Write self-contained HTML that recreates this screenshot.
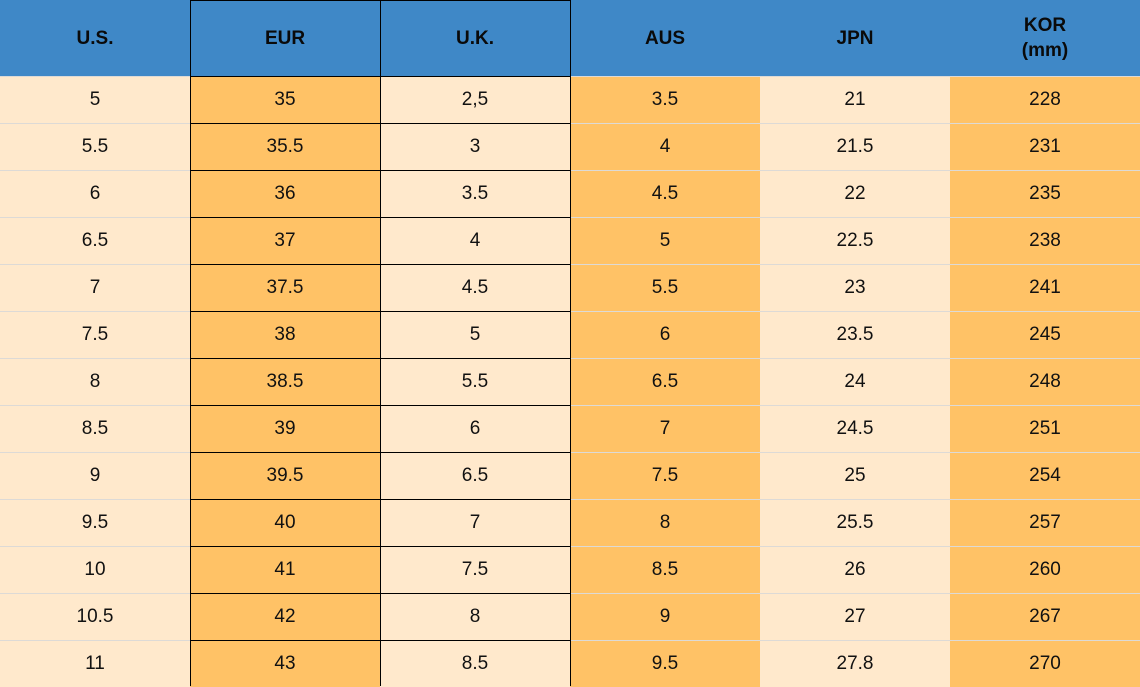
<!DOCTYPE html>
<html>
<head>
<meta charset="utf-8">
<style>
  html,body{margin:0;padding:0;}
  body{width:1140px;height:686px;overflow:hidden;position:relative;background:#ffe9cc;
    font-family:"Liberation Sans",Arial,sans-serif;color:#111;}
  .col{position:absolute;top:0;width:190px;height:686px;}
  .hd{height:76px;background:#3f88c7;font-weight:bold;font-size:19px;text-align:center;
    display:flex;align-items:center;justify-content:center;line-height:25px;color:#0a0a0a;}
  .c{box-sizing:border-box;height:47px;border-top:1px solid #dddad6;text-align:center;
    line-height:45px;font-size:19px;}
  .lt .c{background:#ffe9cc;}
  .or .c{background:#ffc266;}
  .bk .c{border-top:1px solid #000;}
  .vl{position:absolute;top:0;width:1px;height:686px;background:#000;}
  .hl{position:absolute;left:190px;top:0;width:381px;height:1px;background:#000;}
</style>
</head>
<body>
<div class="col lt" style="left:0">
  <div class="hd">U.S.</div>
  <div class="c">5</div><div class="c">5.5</div><div class="c">6</div><div class="c">6.5</div><div class="c">7</div><div class="c">7.5</div><div class="c">8</div><div class="c">8.5</div><div class="c">9</div><div class="c">9.5</div><div class="c">10</div><div class="c">10.5</div><div class="c">11</div>
</div>
<div class="col or bk" style="left:190px">
  <div class="hd">EUR</div>
  <div class="c">35</div><div class="c">35.5</div><div class="c">36</div><div class="c">37</div><div class="c">37.5</div><div class="c">38</div><div class="c">38.5</div><div class="c">39</div><div class="c">39.5</div><div class="c">40</div><div class="c">41</div><div class="c">42</div><div class="c">43</div>
</div>
<div class="col lt bk" style="left:380px">
  <div class="hd">U.K.</div>
  <div class="c">2,5</div><div class="c">3</div><div class="c">3.5</div><div class="c">4</div><div class="c">4.5</div><div class="c">5</div><div class="c">5.5</div><div class="c">6</div><div class="c">6.5</div><div class="c">7</div><div class="c">7.5</div><div class="c">8</div><div class="c">8.5</div>
</div>
<div class="col or" style="left:570px">
  <div class="hd">AUS</div>
  <div class="c">3.5</div><div class="c">4</div><div class="c">4.5</div><div class="c">5</div><div class="c">5.5</div><div class="c">6</div><div class="c">6.5</div><div class="c">7</div><div class="c">7.5</div><div class="c">8</div><div class="c">8.5</div><div class="c">9</div><div class="c">9.5</div>
</div>
<div class="col lt" style="left:760px">
  <div class="hd">JPN</div>
  <div class="c">21</div><div class="c">21.5</div><div class="c">22</div><div class="c">22.5</div><div class="c">23</div><div class="c">23.5</div><div class="c">24</div><div class="c">24.5</div><div class="c">25</div><div class="c">25.5</div><div class="c">26</div><div class="c">27</div><div class="c">27.8</div>
</div>
<div class="col or" style="left:950px">
  <div class="hd">KOR<br>(mm)</div>
  <div class="c">228</div><div class="c">231</div><div class="c">235</div><div class="c">238</div><div class="c">241</div><div class="c">245</div><div class="c">248</div><div class="c">251</div><div class="c">254</div><div class="c">257</div><div class="c">260</div><div class="c">267</div><div class="c">270</div>
</div>
<div class="vl" style="left:190px"></div>
<div class="vl" style="left:380px"></div>
<div class="vl" style="left:570px"></div>
<div class="hl"></div>
</body>
</html>
